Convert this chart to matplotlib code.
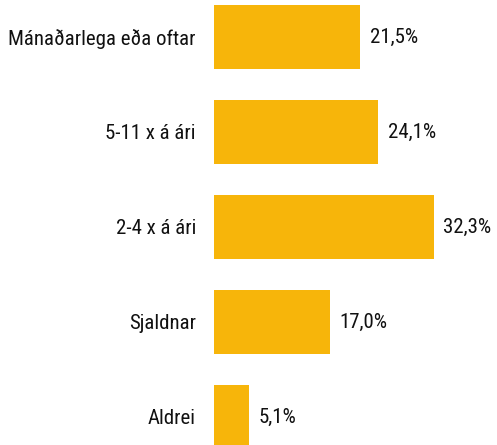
import matplotlib.pyplot as plt

categories = ["Mánaðarlega eða oftar", "5-11 x á ári", "2-4 x á ári", "Sjaldnar", "Aldrei"]
values = [21.5, 24.1, 32.3, 17.0, 5.1]
value_labels = ["21,5%", "24,1%", "32,3%", "17,0%", "5,1%"]

plt.rcParams['font.family'] = ['Roboto Condensed', 'Liberation Sans', 'DejaVu Sans']

fig = plt.figure(figsize=(4.97, 4.45), dpi=100)
ax = fig.add_axes([214 / 497, 0, 272 / 497, 1])
ypos = range(len(categories))
ax.barh(ypos, values, height=0.674, color="#F7B50A")
ax.set_xlim(0, 40)
ax.set_ylim(4.295, -0.389)

for y, v, lab in zip(ypos, values, value_labels):
    ax.annotate(lab, (v, y), xytext=(7, 0), textcoords="offset points",
                va="center", ha="left", fontsize=15, color="#111111",
                annotation_clip=False)

ax.set_yticks(list(ypos))
ax.set_yticklabels(categories, fontsize=15, color="#111111")
ax.tick_params(axis="y", length=0, pad=13)
ax.set_xticks([])
for s in ax.spines.values():
    s.set_visible(False)

fig.savefig("out.png", dpi=100)
